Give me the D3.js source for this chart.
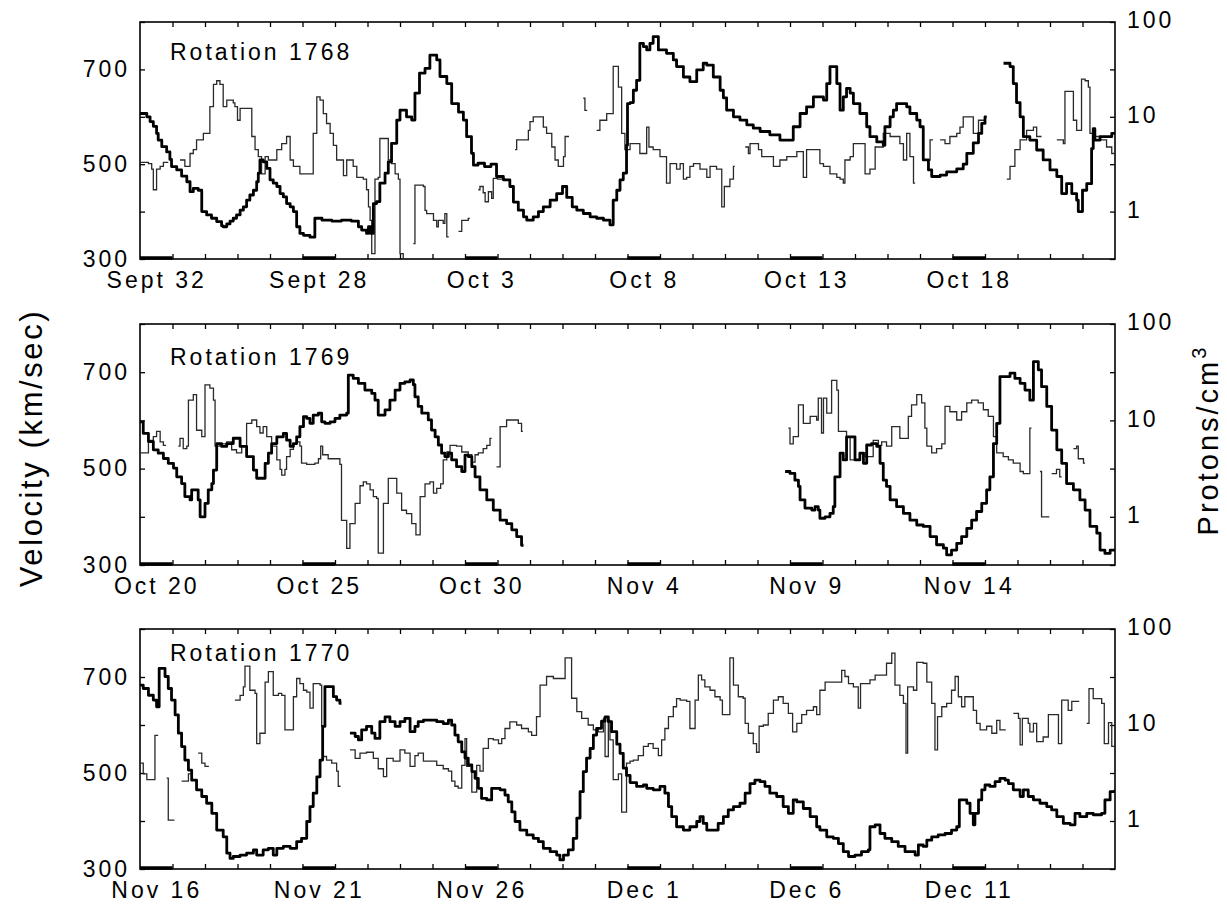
<!DOCTYPE html>
<html>
<head>
<meta charset="utf-8">
<script src="https://cdn.jsdelivr.net/npm/d3@7"></script>
<style>
  body { margin: 0; background: #fff; }
  svg text { font-family: "Liberation Sans", Arial, Helvetica, sans-serif; fill: #000; }
</style>
</head>
<body>
<svg id="chart" width="1227" height="905"></svg>
<script>
// Solar wind speed (km/s) and proton density (cm^-3), three Carrington rotations.
// Each series is a list of [day, value] steps; [day, null] ends a run of data (gap).

const rotations = ["Rotation 1768", "Rotation 1769", "Rotation 1770"];

const dates1768 = ["Sept 32", "Sept 28", "Oct 3", "Oct 8", "Oct 13", "Oct 18"];
const dates1769 = ["Oct 20", "Oct 25", "Oct 30", "Nov 4", "Nov 9", "Nov 14"];
const dates1770 = ["Nov 16", "Nov 21", "Nov 26", "Dec 1", "Dec 6", "Dec 11"];

const speed1768 = [
  [0,607],[0.21,600],[0.31,590],[0.41,580],[0.51,565],[0.56,551],[0.67,537],[0.82,526],[0.92,510],[0.97,495],
  [1.13,488],[1.28,475],[1.44,463],[1.54,442],[1.64,449],[1.79,445],[1.9,400],[2.05,393],[2.2,386],[2.36,379],
  [2.51,370],[2.56,368],[2.67,374],[2.77,380],[2.87,386],[2.97,393],[3.08,403],[3.18,410],[3.28,424],[3.38,435],
  [3.49,445],[3.59,463],[3.64,481],[3.69,509],[3.79,505],[3.9,491],[4.0,467],[4.1,460],[4.21,453],[4.31,438],
  [4.41,431],[4.51,417],[4.62,410],[4.72,400],[4.82,368],[4.92,354],[5.03,350],[5.23,346],[5.38,386],[5.6,382],
  [5.9,380],[6.2,382],[6.5,380],[6.72,368],[6.82,361],[6.97,354],[7.03,368],[7.1,354],[7.18,417],[7.28,421],
  [7.38,460],[7.54,481],[7.64,505],[7.74,544],[7.9,593],[8.0,614],[8.2,600],[8.36,593],[8.46,650],[8.6,692],
  [8.77,702],[8.92,730],[9.13,720],[9.23,685],[9.44,670],[9.59,628],[9.8,610],[9.95,593],[10.05,558],[10.2,523],
  [10.26,498],[10.4,502],[10.6,495],[10.8,500],[10.97,474],[11.18,467],[11.38,453],[11.49,420],[11.64,403],[11.8,389],
  [11.9,382],[12.1,389],[12.26,400],[12.41,410],[12.62,424],[12.82,438],[13.0,453],[13.13,430],[13.3,410],[13.44,403],
  [13.64,396],[13.85,389],[14.05,386],[14.26,382],[14.46,372],[14.56,424],[14.67,445],[14.77,467],[14.87,481],[14.97,540],
  [15.0,628],[15.08,630],[15.18,656],[15.28,677],[15.38,755],[15.49,748],[15.59,741],[15.69,755],[15.79,769],[15.95,741],
  [16.2,734],[16.41,720],[16.51,706],[16.72,684],[16.92,674],[17.13,699],[17.33,713],[17.44,709],[17.64,684],[17.85,656],
  [17.95,640],[18.05,614],[18.26,600],[18.46,593],[18.67,583],[18.87,576],[19.08,569],[19.38,562],[19.69,551],[20.0,551],
  [20.1,579],[20.31,607],[20.51,621],[20.72,642],[20.92,642],[21.03,635],[21.13,670],[21.23,706],[21.44,670],[21.54,614],
  [21.64,642],[21.74,660],[21.85,650],[21.95,628],[22.15,607],[22.36,579],[22.46,558],[22.67,547],[22.87,540],[22.92,579],
  [23.08,600],[23.18,614],[23.28,628],[23.59,621],[23.69,607],[23.9,593],[24.0,579],[24.1,509],[24.26,488],[24.36,474],
  [24.62,477],[24.82,484],[25.13,490],[25.33,500],[25.44,523],[25.64,545],[25.8,565],[25.9,586],[26.0,600],[26.05,null],
  [26.57,713],[26.77,706],[26.87,670],[26.97,630],[27.08,600],[27.18,558],[27.38,551],[27.59,530],[27.79,509],[28.0,488],
  [28.21,474],[28.36,438],[28.51,459],[28.67,438],[28.82,424],[28.87,400],[29.0,445],[29.13,459],[29.28,533],[29.33,575],
  [29.38,551],[29.54,558],[29.74,558],[29.9,565],[30,565]
];

const density1768 = [
  [0,3.3],[0.26,3.2],[0.36,2.8],[0.41,1.7],[0.51,2.8],[0.62,3.0],[0.72,3.3],[0.87,null],
  [1.23,3.5],[1.38,3.0],[1.54,4.1],[1.64,4.5],[1.74,5.7],[1.95,6.7],[2.15,12.8],[2.26,22],[2.36,24],[2.46,22],
  [2.56,12.8],[2.67,15],[2.87,14],[2.92,12.8],[3.0,9.2],[3.08,12.3],[3.44,6.2],[3.54,4.5],[3.64,3.8],[3.74,2.5],
  [3.85,3.8],[3.95,3.5],[4.21,4.5],[4.36,5.2],[4.51,6.2],[4.62,3.5],[4.72,3.0],[4.92,2.5],[5.33,6.7],[5.44,16.2],
  [5.54,15],[5.64,10.8],[5.74,8.5],[5.85,6.7],[5.95,5.0],[6.05,3.5],[6.26,2.4],[6.36,3.5],[6.56,3.0],[6.67,2.3],
  [6.87,2.2],[6.97,1.7],[7.03,1.12],[7.08,0.81],[7.13,0.36],[7.23,2.2],[7.33,2.3],[7.38,5.9],[7.64,3.5],[7.74,3.2],
  [7.85,2.5],[7.95,2.2],[8.0,0.36],[8.1,0.28],[8.2,null],
  [8.41,0.46],[8.46,1.9],[8.72,1.84],[8.77,1.03],[8.82,0.95],[9.03,0.81],[9.13,0.69],[9.18,0.81],[9.33,0.75],[9.38,0.95],
  [9.44,0.54],[9.5,null],
  [9.8,0.62],[9.9,0.81],[10.1,0.85],[10.15,null],
  [10.41,1.7],[10.46,1.84],[10.56,1.58],[10.62,1.27],[10.72,1.62],[10.82,1.38],[10.87,2.24],[11.0,2.2],[11.25,null],
  [11.54,4.5],[11.59,5.7],[11.95,7.2],[12.0,8.9],[12.1,10],[12.41,7.8],[12.51,6.7],[12.67,4.8],[12.77,3.5],[12.87,3.0],
  [13.03,3.8],[13.08,6.2],[13.2,null],
  [13.64,15.7],[13.69,11.7],[13.76,null],
  [14.05,7.2],[14.15,9.2],[14.36,10.8],[14.56,34],[14.72,20.6],[14.82,6.7],[14.92,4.5],[15.08,5.2],[15.38,4.1],[15.59,7.8],
  [15.66,4.8],[15.79,4.5],[16.0,3.8],[16.2,2.0],[16.31,3.2],[16.51,2.8],[16.62,3.2],[16.72,2.2],[16.82,2.3],[16.92,3.0],
  [17.03,3.2],[17.23,2.8],[17.44,2.3],[17.54,3.0],[17.74,2.8],[17.9,1.12],[17.98,1.84],[18.15,2.2],[18.26,3.0],[18.3,null],
  [18.62,4.8],[18.72,4.1],[18.77,5.2],[19.03,4.5],[19.13,3.8],[19.49,3.0],[19.69,3.5],[19.9,3.8],[20.21,4.3],[20.41,2.3],
  [20.51,4.5],[20.92,3.2],[21.03,3.0],[21.23,2.5],[21.44,2.3],[21.54,2.2],[21.64,2.0],[21.69,3.5],[21.85,3.8],[21.95,5.2],
  [22.31,2.5],[22.46,2.8],[22.62,4.8],[22.87,6.7],[23.08,6.2],[23.38,5.2],[23.49,3.5],[23.59,6.7],[23.69,3.8],[23.8,2.0],
  [23.85,null],
  [24.21,3.5],[24.31,5.7],[24.4,null],
  [24.62,5.7],[24.77,5.2],[24.92,6.2],[25.13,6.7],[25.23,7.8],[25.33,10],[25.64,6.7],[25.8,9.2],[26.0,10],[26.05,null],
  [26.67,2.2],[26.77,3.0],[26.92,4.5],[27.08,5.7],[27.28,7.2],[27.49,7.8],[27.59,6.2],[27.74,null],
  [28.21,5.7],[28.41,5.2],[28.46,18.5],[28.72,9.2],[28.82,7.2],[28.97,25],[29.08,24],[29.18,20.6],[29.23,6.7],[29.33,6.2],
  [29.54,5.7],[29.74,4.8],[29.9,4.1],[30,4.1]
];

const speed1769 = [
  [0,597],[0.1,573],[0.26,556],[0.41,539],[0.56,532],[0.72,521],[0.87,511],[1.03,501],[1.13,483],[1.28,469],
  [1.38,442],[1.54,435],[1.59,456],[1.74,456],[1.79,435],[1.85,400],[1.95,400],[2.0,428],[2.1,456],[2.21,469],
  [2.26,497],[2.36,552],[2.51,546],[2.67,552],[2.87,563],[3.08,546],[3.28,525],[3.49,497],[3.59,480],[3.74,480],
  [3.85,511],[3.95,532],[4.05,552],[4.21,566],[4.41,573],[4.51,559],[4.62,546],[4.72,552],[4.82,566],[4.92,587],
  [5.03,608],[5.13,604],[5.23,594],[5.33,611],[5.49,615],[5.59,597],[5.69,594],[5.85,597],[6.0,604],[6.15,611],
  [6.36,615],[6.41,694],[6.56,687],[6.72,677],[6.92,663],[7.13,656],[7.23,642],[7.33,611],[7.54,622],[7.69,642],
  [7.85,663],[8.0,677],[8.15,680],[8.31,684],[8.41,674],[8.46,649],[8.56,629],[8.67,615],[8.87,601],[8.97,580],
  [9.08,566],[9.18,549],[9.28,532],[9.38,525],[9.49,532],[9.59,518],[9.74,504],[9.9,494],[10.0,528],[10.1,525],
  [10.21,504],[10.31,483],[10.46,456],[10.67,435],[10.87,414],[11.08,393],[11.28,386],[11.44,373],[11.59,359],[11.74,341],
  [11.8,null],
  [19.85,494],[20.0,490],[20.15,476],[20.26,463],[20.31,435],[20.46,418],[20.67,414],[20.77,421],[20.87,414],[20.92,397],
  [21.08,400],[21.23,407],[21.33,421],[21.38,483],[21.54,532],[21.64,518],[21.74,566],[21.9,566],[22.0,518],[22.15,532],
  [22.26,511],[22.36,549],[22.51,552],[22.67,546],[22.77,511],[22.87,476],[22.97,463],[23.08,435],[23.28,421],[23.49,407],
  [23.69,393],[23.9,383],[24.1,380],[24.31,359],[24.51,342],[24.72,335],[24.82,321],[24.97,331],[25.13,345],[25.28,359],
  [25.44,376],[25.59,393],[25.74,411],[25.9,428],[26.05,456],[26.15,483],[26.26,552],[26.36,594],[26.46,691],[26.77,698],
  [26.92,687],[27.08,677],[27.23,663],[27.38,642],[27.49,722],[27.64,705],[27.74,670],[27.9,629],[28.05,580],[28.21,539],
  [28.36,511],[28.51,469],[28.72,456],[28.92,435],[29.08,414],[29.23,380],[29.44,366],[29.54,331],[29.69,324],[29.85,331],
  [30,331]
];

const density1769 = [
  [0,4.6],[0.26,6.2],[0.41,6.8],[0.51,7.7],[0.62,6.0],[0.72,5.5],[0.8,null],
  [1.18,5.4],[1.23,6.5],[1.33,5.1],[1.44,5.4],[1.49,16.2],[1.64,18.5],[1.74,7.9],[1.9,6.8],[2.0,23.4],[2.15,21.6],
  [2.26,16.2],[2.31,5.4],[2.46,5.7],[2.67,6.0],[2.82,4.96],[2.97,4.6],[3.13,5.4],[3.28,9.3],[3.44,10.1],[3.59,8.6],
  [3.69,7.4],[3.79,8.6],[3.9,6.8],[4.05,5.4],[4.21,3.9],[4.31,3.1],[4.36,2.7],[4.46,3.1],[4.51,4.2],[4.62,5.0],
  [4.72,5.7],[4.82,6.0],[4.92,5.4],[4.97,3.6],[5.13,3.5],[5.38,3.6],[5.49,4.0],[5.56,5.4],[5.62,4.4],[5.79,4.0],
  [6.15,3.5],[6.2,0.92],[6.36,0.47],[6.46,0.85],[6.62,1.38],[6.77,2.1],[6.87,2.3],[6.97,2.2],[7.08,1.9],[7.18,1.62],
  [7.28,1.55],[7.33,0.42],[7.49,1.38],[7.64,2.5],[7.9,1.76],[8.05,1.17],[8.2,1.08],[8.36,0.85],[8.49,0.65],[8.62,1.62],
  [8.77,2.2],[8.92,2.3],[9.03,1.76],[9.13,1.97],[9.25,2.2],[9.33,3.9],[9.44,4.7],[9.54,5.5],[9.74,5.4],[9.9,4.7],
  [10.1,4.4],[10.21,3.7],[10.31,4.4],[10.41,4.6],[10.56,5.1],[10.67,5.5],[10.77,6.5],[10.82,null],
  [10.97,3.3],[11.08,8.6],[11.28,10.1],[11.64,9.3],[11.74,7.7],[11.78,null],
  [19.95,8.3],[20.0,5.7],[20.1,6.8],[20.26,14.5],[20.41,9.3],[20.62,11],[20.82,10.1],[20.87,17],[20.97,7.4],[21.03,17],
  [21.13,11.9],[21.28,26],[21.44,20.6],[21.49,7.7],[21.74,6.8],[21.85,3.9],[22.15,4.6],[22.31,4.2],[22.56,6.2],[22.72,5.5],
  [22.82,6.0],[22.97,5.4],[23.13,8.6],[23.38,6.5],[23.64,11],[23.74,14.5],[23.9,18.5],[24.05,15.2],[24.15,8.3],[24.21,5.4],
  [24.36,4.6],[24.51,5.1],[24.67,5.7],[24.77,14],[24.92,12.3],[25.13,10.1],[25.28,12.3],[25.44,15.2],[25.59,16.2],[25.79,15.2],
  [25.95,12.9],[26.1,11],[26.26,6.8],[26.36,4.6],[26.56,4.2],[26.72,3.9],[26.87,3.6],[27.08,2.95],[27.18,2.8],[27.38,8.3],
  [27.43,null],
  [27.69,2.95],[27.74,1.0],[27.98,null],
  [28.05,2.8],[28.2,3.1],[28.3,2.6],[28.36,null],
  [28.72,5.1],[28.82,5.4],[28.87,4.0],[29.03,3.6],[29.08,null]
];

const speed1770 = [
  [0,683],[0.1,676],[0.26,662],[0.41,652],[0.51,638],[0.59,718],[0.77,701],[0.87,676],[0.97,652],[1.08,621],
  [1.18,583],[1.28,555],[1.38,527],[1.49,506],[1.59,485],[1.74,465],[1.9,451],[2.05,437],[2.21,416],[2.36,381],
  [2.56,367],[2.67,333],[2.77,322],[2.87,326],[3.08,329],[3.28,333],[3.49,340],[3.59,329],[3.79,340],[3.95,343],
  [4.1,329],[4.21,343],[4.41,347],[4.62,343],[4.82,357],[4.97,364],[5.13,399],[5.23,430],[5.33,458],[5.44,492],
  [5.54,527],[5.62,597],[5.69,680],[5.95,659],[6.05,652],[6.15,645],[6.2,null],
  [6.46,583],[6.62,576],[6.72,569],[6.82,590],[6.97,597],[7.13,583],[7.23,572],[7.38,607],[7.54,617],[7.69,607],
  [7.85,597],[8.0,607],[8.15,614],[8.31,586],[8.46,597],[8.56,607],[8.72,610],[9.13,607],[9.33,603],[9.49,610],
  [9.59,600],[9.69,579],[9.79,565],[9.9,544],[10.0,531],[10.1,517],[10.21,503],[10.31,489],[10.41,468],[10.51,447],
  [10.67,444],[10.82,468],[11.08,465],[11.23,454],[11.33,440],[11.44,419],[11.54,399],[11.69,381],[11.9,371],[12.1,364],
  [12.26,357],[12.41,343],[12.62,336],[12.82,329],[12.92,319],[13.03,329],[13.18,340],[13.33,364],[13.44,406],[13.54,461],
  [13.64,503],[13.74,531],[13.85,551],[13.95,579],[14.05,593],[14.2,608],[14.31,617],[14.41,607],[14.51,586],[14.67,560],
  [14.77,541],[14.87,510],[14.97,495],[15.08,480],[15.28,472],[15.49,475],[15.59,468],[15.79,465],[16.0,472],[16.15,458],
  [16.26,430],[16.36,409],[16.51,388],[16.72,381],[16.92,388],[17.13,399],[17.23,409],[17.33,395],[17.44,381],[17.64,381],
  [17.79,395],[17.95,409],[18.1,423],[18.26,430],[18.46,437],[18.62,458],[18.77,478],[18.92,485],[19.08,482],[19.23,472],
  [19.38,458],[19.59,451],[19.79,430],[19.95,416],[20.1,444],[20.21,440],[20.41,426],[20.62,409],[20.82,388],[20.92,381],
  [21.13,367],[21.33,364],[21.49,353],[21.64,336],[21.8,326],[22.0,329],[22.2,336],[22.41,340],[22.46,388],[22.62,392],
  [22.77,374],[22.92,364],[23.13,357],[23.33,347],[23.54,336],[23.85,329],[23.95,350],[24.1,347],[24.21,360],[24.36,367],
  [24.56,371],[24.77,374],[24.97,381],[25.13,388],[25.21,444],[25.44,437],[25.54,416],[25.64,392],[25.69,416],[25.8,444],
  [25.9,465],[26.0,475],[26.15,472],[26.31,482],[26.46,489],[26.62,485],[26.72,478],[26.87,465],[27.08,451],[27.18,465],
  [27.33,451],[27.49,444],[27.69,437],[27.9,430],[28.05,423],[28.21,409],[28.41,395],[28.62,392],[28.77,416],[28.92,409],
  [29.13,416],[29.33,413],[29.59,416],[29.69,444],[29.85,461],[30,465]
];

const density1770 = [
  [0,4.0],[0.1,3.1],[0.21,2.7],[0.46,7.8],[0.56,null],
  [0.82,2.8],[0.87,1.02],[1.06,null],
  [1.28,2.6],[1.49,3.1],[1.62,null],
  [1.79,5.1],[1.9,4.0],[2.0,3.7],[2.12,null],
  [2.92,18.2],[3.08,20.4],[3.18,25],[3.23,41],[3.38,23],[3.54,21.4],[3.59,6.4],[3.69,8.2],[3.85,28],[3.95,36],
  [4.1,20.4],[4.26,21.4],[4.36,20.4],[4.46,8.9],[4.72,19.7],[4.82,30.5],[4.92,27],[5.03,23],[5.13,22],[5.23,15],
  [5.33,27],[5.54,26],[5.59,9.7],[5.64,4.7],[5.74,4.3],[5.9,4.0],[6.05,3.3],[6.1,2.3],[6.17,null],
  [6.46,5.5],[6.62,4.5],[6.77,5.1],[6.97,5.2],[7.18,4.5],[7.33,3.5],[7.49,2.9],[7.59,4.5],[7.79,4.2],[8.0,5.5],
  [8.15,5.1],[8.31,3.7],[8.46,4.8],[8.56,5.1],[8.72,4.2],[9.13,3.8],[9.33,3.5],[9.49,3.3],[9.59,2.6],[9.69,2.3],
  [9.79,2.2],[9.9,3.8],[10.0,7.2],[10.05,3.7],[10.21,2.0],[10.36,3.8],[10.46,3.3],[10.56,5.7],[10.72,7.2],[10.87,7.0],
  [11.03,6.4],[11.13,7.2],[11.23,9.2],[11.38,10.8],[11.59,10],[11.74,9.2],[11.95,8.5],[12.05,7.8],[12.2,12.2],[12.31,26],
  [12.51,32],[12.72,30.5],[13.08,50],[13.28,19],[13.44,13.8],[13.59,11.7],[13.79,10],[13.95,8.9],[14.1,8.5],[14.26,11.7],
  [14.31,4.7],[14.41,11.2],[14.46,7.0],[14.56,2.7],[14.72,3.1],[14.82,1.24],[14.97,4.0],[15.08,4.2],[15.18,4.3],[15.33,4.8],
  [15.49,6.0],[15.64,6.4],[15.79,5.7],[15.95,4.8],[16.05,7.0],[16.15,9.2],[16.26,12.2],[16.41,15.5],[16.51,18.8],[16.62,18.2],
  [16.82,17.6],[16.92,9.2],[17.08,18.2],[17.18,33],[17.28,29.5],[17.38,25],[17.54,23],[17.69,19.7],[17.85,18.2],[17.92,12.8],
  [18.15,50],[18.26,26],[18.41,19.7],[18.56,19],[18.62,10.4],[18.72,8.2],[18.87,6.4],[18.97,5.2],[19.05,9.7],[19.18,10],
  [19.33,13.2],[19.49,18.2],[19.64,19.7],[19.79,16.8],[19.95,13.2],[20.08,8.5],[20.21,10.4],[20.36,12.8],[20.51,14.2],[20.72,15.5],
  [20.82,12.8],[20.92,23],[21.08,28],[21.59,37],[21.69,32],[21.8,27],[21.95,25],[22.1,15],[22.17,27],[22.46,29.5],
  [22.62,33],[22.97,44],[23.13,56],[23.23,26],[23.38,20.4],[23.49,16.8],[23.57,5.1],[23.62,25],[23.8,23],[23.9,45],
  [24.1,44],[24.21,28],[24.36,16.8],[24.46,5.5],[24.54,12.2],[24.67,15.5],[24.82,16.8],[24.97,23],[25.08,32],[25.18,19.7],
  [25.28,15.5],[25.38,19.7],[25.64,14.2],[25.74,10.4],[25.85,8.9],[26.05,9.7],[26.21,8.2],[26.36,11.2],[26.46,8.9],[26.64,null],
  [26.87,13.2],[27.03,11.7],[27.08,6.2],[27.15,11.7],[27.33,10.4],[27.38,8.5],[27.49,10.4],[27.59,6.7],[27.79,7.5],[27.95,12.8],
  [28.26,6.4],[28.36,18.2],[28.56,14.2],[28.67,17.6],[28.9,null],
  [29.13,10.4],[29.2,23.9],[29.33,18.8],[29.59,16.8],[29.67,6.4],[29.8,10.6],[29.9,6.0],[30,6.0]
];

// Axis tick values
const dayTicks = d3.range(1, 30);
const labelDays = [0, 5, 10, 15, 20, 25];
const speedTicks = [300, 400, 500, 600, 700, 800];
const speedLabelled = [300, 500, 700];
const densityTicks = [Math.sqrt(0.1), 1, Math.sqrt(10), 10, Math.sqrt(1000), 100];
const densityLabelled = [1, 10, 100];

// Layout of the three stacked panels
const plotLeft = 140, plotRight = 1115;
const layout = [
  { top: 22,  bottom: 259, titleY: 60 },
  { top: 324, bottom: 565, titleY: 365 },
  { top: 629, bottom: 869, titleY: 661 }
];
const panels = [
  { title: rotations[0], dates: dates1768, speed: speed1768, density: density1768 },
  { title: rotations[1], dates: dates1769, speed: speed1769, density: density1769 },
  { title: rotations[2], dates: dates1770, speed: speed1770, density: density1770 }
];

const FONT = 23, SPACING = "3px";
const svg = d3.select("#chart");
const x = d3.scaleLinear().domain([0, 30]).range([plotLeft, plotRight]);

// Close each run of data so its last step is drawn up to the gap
function withGaps(series) {
  const out = [];
  let prev = null;
  for (const [t, v] of series) {
    if (v == null) {
      if (prev != null) out.push([t, prev]);
      out.push([t, null]);
    } else {
      out.push([t, v]);
    }
    prev = v;
  }
  return out;
}

function styleAxis(g) {
  g.select(".domain").remove();
  g.attr("font-family", null).attr("font-size", null);
  g.selectAll(".tick line").attr("stroke", "#000").attr("stroke-width", 1.3);
  g.selectAll("text")
    .attr("font-size", FONT)
    .style("letter-spacing", SPACING)
    .attr("fill", "#000");
}

panels.forEach((p, i) => {
  const L = layout[i];
  const g = svg.append("g");
  const yV = d3.scaleLinear().domain([300, 800]).range([L.bottom, L.top]);
  const yN = d3.scaleLog().domain([Math.sqrt(0.1), 100]).range([L.bottom, L.top]);

  const clipId = "clip" + i;
  svg.append("clipPath").attr("id", clipId)
    .append("rect")
    .attr("x", plotLeft).attr("y", L.top)
    .attr("width", plotRight - plotLeft).attr("height", L.bottom - L.top);

  // day ticks, inward, top and bottom
  g.append("g").attr("transform", `translate(0,${L.bottom})`)
    .call(d3.axisBottom(x).tickValues(dayTicks).tickSize(-5).tickFormat(""))
    .call(styleAxis);
  g.append("g").attr("transform", `translate(0,${L.top})`)
    .call(d3.axisTop(x).tickValues(dayTicks).tickSize(-5).tickFormat(""))
    .call(styleAxis);

  // dates centred under their day, which is marked by a heavy bar
  g.append("g").attr("transform", `translate(0,${L.bottom})`)
    .call(d3.axisBottom(x).tickValues(labelDays.map(d => d + 0.5)).tickSize(0).tickPadding(13)
      .tickFormat((d, k) => p.dates[k]))
    .call(styleAxis);
  g.selectAll(null).data(labelDays).enter().append("line")
    .attr("x1", d => x(d)).attr("x2", d => x(d + 1))
    .attr("y1", L.bottom - 1).attr("y2", L.bottom - 1)
    .attr("stroke", "#000").attr("stroke-width", 3.5);

  // velocity axis (left)
  g.append("g").attr("transform", `translate(${plotLeft},0)`)
    .call(d3.axisLeft(yV).tickValues(speedTicks).tickSize(-5).tickPadding(10)
      .tickFormat(d => speedLabelled.includes(d) ? d : ""))
    .call(styleAxis);

  // density axis (right, logarithmic)
  g.append("g").attr("transform", `translate(${plotRight},0)`)
    .call(d3.axisRight(yN).tickValues(densityTicks).tickSize(-5).tickPadding(12)
      .tickFormat(d => {
        const m = densityLabelled.find(v => Math.abs(v - d) < 1e-9);
        return m == null ? "" : m;
      }))
    .call(styleAxis)
    .selectAll("text").attr("dy", "0.25em");

  // frame
  g.append("rect")
    .attr("x", plotLeft).attr("y", L.top)
    .attr("width", plotRight - plotLeft).attr("height", L.bottom - L.top)
    .attr("fill", "none").attr("stroke", "#000").attr("stroke-width", 1.6);

  const plot = g.append("g").attr("clip-path", `url(#${clipId})`);

  // proton density: thin step line
  plot.append("path")
    .datum(withGaps(p.density))
    .attr("fill", "none").attr("stroke", "#2a2a2a").attr("stroke-width", 1.3)
    .attr("d", d3.line().defined(d => d[1] != null)
      .x(d => x(d[0])).y(d => yN(d[1])).curve(d3.curveStepAfter));

  // speed: heavy step line
  plot.append("path")
    .datum(withGaps(p.speed))
    .attr("fill", "none").attr("stroke", "#000").attr("stroke-width", 2.8)
    .attr("stroke-linejoin", "round")
    .attr("d", d3.line().defined(d => d[1] != null)
      .x(d => x(d[0])).y(d => yV(d[1])).curve(d3.curveStepAfter));

  g.append("text")
    .attr("x", 170).attr("y", L.titleY)
    .attr("font-size", FONT).style("letter-spacing", SPACING)
    .text(p.title);
});

// axis titles
svg.append("text")
  .attr("transform", "translate(42,448) rotate(-90)")
  .attr("text-anchor", "middle")
  .attr("font-size", 31).style("letter-spacing", "2.6px")
  .text("Velocity (km/sec)");

const prot = svg.append("text")
  .attr("transform", "translate(1218,440) rotate(-90)")
  .attr("text-anchor", "middle")
  .attr("font-size", 29).style("letter-spacing", "3px");
prot.append("tspan").text("Protons/cm");
prot.append("tspan").attr("dy", -12).attr("font-size", 20).text("3");
</script>
</body>
</html>
